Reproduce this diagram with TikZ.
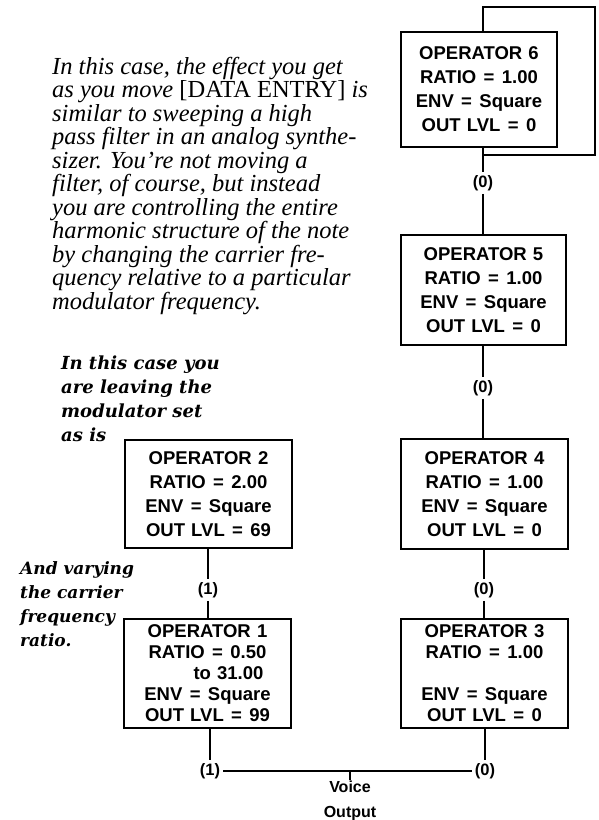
\documentclass[tikz,border=0pt]{standalone}
\usepackage{fontspec}
\setmainfont{Liberation Serif}
\newfontfamily\opfont{Liberation Sans}
\newfontfamily\notefont{DejaVu Serif}
\usetikzlibrary{positioning}

\newcommand{\opeq}{\hspace{.4em}=\hspace{.4em}}

\tikzset{
  opbox/.style={draw, line width=1.3pt, inner sep=0pt, align=center,
    minimum height=110pt, text width=167pt,
    font=\opfont\bfseries\fontsize{18.5}{24}\selectfont},
  opsmall/.style={font=\opfont\bfseries\fontsize{18.5}{21}\selectfont},
  lvl/.style={inner sep=3pt, font=\opfont\bfseries\fontsize{16.5}{16.5}\selectfont},
  wire/.style={line width=1.7pt},
  heavy/.style={line width=2.8pt},
  note/.style={inner sep=0pt, align=left, anchor=north west},
}

\begin{document}
\begin{tikzpicture}[x=1pt,y=-1pt]
\useasboundingbox (0,0) rectangle (598,820);
\clip (0,0) rectangle (598,820);

% comments
\node[note, font=\itshape\fontsize{24.5}{23.5}\selectfont] (para) at (52,57)
  {In this case, the effect you get\\as you move {\upshape[DATA ENTRY]} is\\similar to sweeping a high\\pass filter in an analog synthe-\\sizer. You're not moving a\\filter, of course, but instead\\you are controlling the entire\\harmonic structure of the note\\by changing the carrier fre-\\quency relative to a particular\\modulator frequency.};
\node[note, font=\notefont\bfseries\itshape\fontsize{18}{24}\selectfont] (keep) at (61,356)
  {In this case you\\are leaving the\\modulator set\\as is};
\node[note, font=\notefont\bfseries\itshape\fontsize{17}{24}\selectfont] (vary) at (20,561)
  {And varying\\the carrier\\frequency\\ratio.};

% operators
\node[opbox, text width=156pt, minimum height=115pt] (op6) at (479,89.5)
  {OPERATOR 6\\RATIO\opeq 1.00\\ENV\opeq Square\\OUT LVL\opeq 0};
\node[opbox, text width=165pt] (op5) at (483.5,290)
  {OPERATOR 5\\RATIO\opeq 1.00\\ENV\opeq Square\\OUT LVL\opeq 0};
\node[opbox] (op4) at (484.5,494)
  {OPERATOR 4\\RATIO\opeq 1.00\\ENV\opeq Square\\OUT LVL\opeq 0};
\node[opbox, opsmall, minimum height=109pt] (op3) at (484.5,673.5)
  {OPERATOR 3\\RATIO\opeq 1.00\\\strut\\ENV\opeq Square\\OUT LVL\opeq 0};
\node[opbox, minimum height=108pt] (op2) at (208.5,494)
  {OPERATOR 2\\RATIO\opeq 2.00\\ENV\opeq Square\\OUT LVL\opeq 69};
\node[opbox, opsmall, minimum height=109pt] (op1) at (207.5,673.5)
  {OPERATOR 1\\RATIO\opeq 0.50\\\hspace*{42pt}to 31.00\\ENV\opeq Square\\OUT LVL\opeq 99};

% levels
\node[lvl] (l6) at (483,183) {(0)};
\node[lvl] (l5) at (483,388) {(0)};
\node[lvl] (l4) at (484,590) {(0)};
\node[lvl] (l3) at (485,771) {(0)};
\node[lvl] (l2) at (208,590) {(1)};
\node[lvl] (l1) at (210,771) {(1)};
\node[lvl, inner sep=1pt, align=center, anchor=north,
  font=\opfont\bfseries\fontsize{16}{25}\selectfont] (out) at (350,780) {Voice\\Output};

\coordinate (fbne) at (595,7);
\coordinate (fbse) at (595,155);
\coordinate (vo) at (350,771);

% feedback loop
\draw[wire] (op6.north -| l6) |- (fbne) -- (fbse) -| (l6);
\draw[wire] (op6.south -| l6) -- (l6);
\draw[wire] (l6) -- (op5.north -| l6);
\draw[wire] (op5.south -| l5) -- (l5);
\draw[wire] (l5) -- (op4.north -| l5);
\draw[wire] (op4.south -| l4) -- (l4);
\draw[wire] (l4) -- (op3.north -| l4);
\draw[wire] (op3.south -| l3) -- (l3);
\draw[heavy] (op2.south -| l2) -- (l2);
\draw[heavy] (l2) -- (op1.north -| l2);
\draw[heavy] (op1.south -| l1) -- (l1);
% output
\draw[heavy] (l1) -- (vo);
\draw[wire] (vo) -- (l3);
\draw[heavy] (vo) -- (out.north);
\end{tikzpicture}
\end{document}
